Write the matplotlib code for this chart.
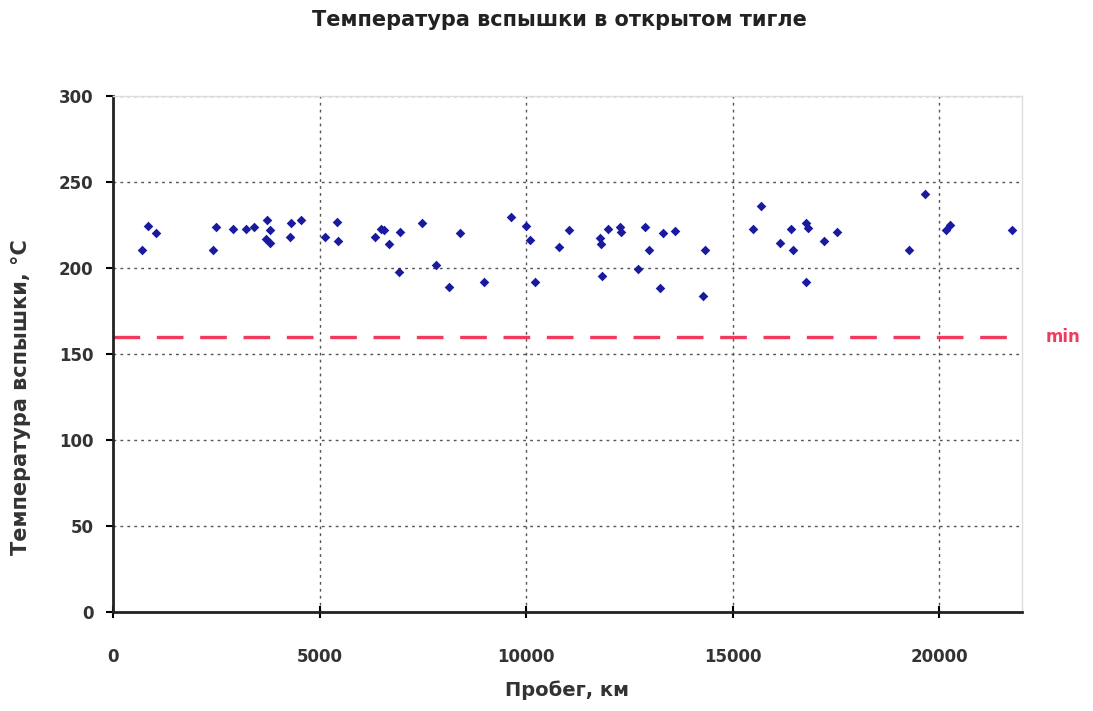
import numpy as np
import matplotlib.pyplot as plt

plt.rcParams['font.family'] = ['DejaVu Sans']

# пробег, км
mileage = [694, 854, 1040, 2427, 2490, 2910, 3216, 3410, 3717, 3797, 3700, 3797,
           4280, 4320, 4562, 5127, 5410, 5449, 6336, 6497, 6550, 6682, 6941, 6917,
           7482, 7828, 8134, 8392, 8980, 9625, 10005, 10085, 10206, 10794, 11028,
           11777, 11818, 11842, 11978, 12261, 12302, 12704, 12866, 12970, 13229,
           13309, 13591, 14276, 14317, 15502, 15688, 16147, 16413, 16469, 16776,
           16815, 16776, 17202, 17525, 19275, 19654, 20160, 20258, 21758]
# температура вспышки, °C
flash_temp = [210.5, 224.6, 220.5, 210.5, 224, 222.5, 222.5, 224, 227.9, 222, 217, 214.4,
              217.8, 226, 227.9, 217.8, 226.6, 215.9, 217.8, 222.7, 222, 214, 220.7, 197.9,
              226.3, 201.7, 188.8, 220.5, 192, 229.8, 224.4, 216.3, 192, 212, 222,
              217.6, 214, 195.3, 222.5, 224, 221.1, 199.4, 224, 210.5, 188.2,
              220.5, 221.5, 183.7, 210.5, 222.5, 236.2, 214.4, 222.5, 210.5, 226,
              223, 191.7, 215.9, 220.7, 210.5, 242.8, 222, 225, 222]
min_limit = 160

fig = plt.figure(figsize=(10.93, 7.11), dpi=100)
ax = fig.add_axes([0.1034, 0.1392, 0.8316, 0.7258])

ax.scatter(mileage, flash_temp, marker='D', s=24, color='#1a1aa0', zorder=3, linewidths=0)
ax.plot([0, 22000], [min_limit, min_limit], color='#f23a5e', lw=2.4, dashes=(8, 5), zorder=2)
ax.text(1.026, min_limit, 'min', transform=ax.get_yaxis_transform(), color='#f23a5e',
        fontsize=12, fontweight='bold', va='center', ha='left')

ax.set_xlim(0, 22000)
ax.set_ylim(0, 300)
ax.set_xticks(np.arange(0, 20001, 5000))
ax.set_yticks(np.arange(0, 301, 50))
ax.grid(True, color='#555555', linestyle=(0, (2, 3)), linewidth=1)

for side in ['top', 'right']:
    ax.spines[side].set_color('#dddddd')
    ax.spines[side].set_linewidth(1)
for side in ['left', 'bottom']:
    ax.spines[side].set_linewidth(2)
    ax.spines[side].set_color('#222222')

ax.tick_params(axis='x', direction='inout', length=8, width=1.5, labelsize=12, pad=22)
ax.tick_params(axis='y', direction='out', length=5, width=1.5, labelsize=12, pad=9)
for lbl in ax.get_xticklabels() + ax.get_yticklabels():
    lbl.set_fontweight('bold')
    lbl.set_color('#333333')

ax.set_xlabel('Пробег, км', fontsize=14, fontweight='bold', color='#333333', labelpad=10)
ax.set_ylabel('Температура вспышки, °С', fontsize=15, fontweight='bold', color='#333333')
ax.yaxis.set_label_coords(-0.090, 0.417)
fig.text(0.512, 0.972, 'Температура вспышки в открытом тигле', ha='center', va='center',
         fontsize=15, fontweight='bold', color='#222222')

fig.savefig('out.png', dpi=100)
